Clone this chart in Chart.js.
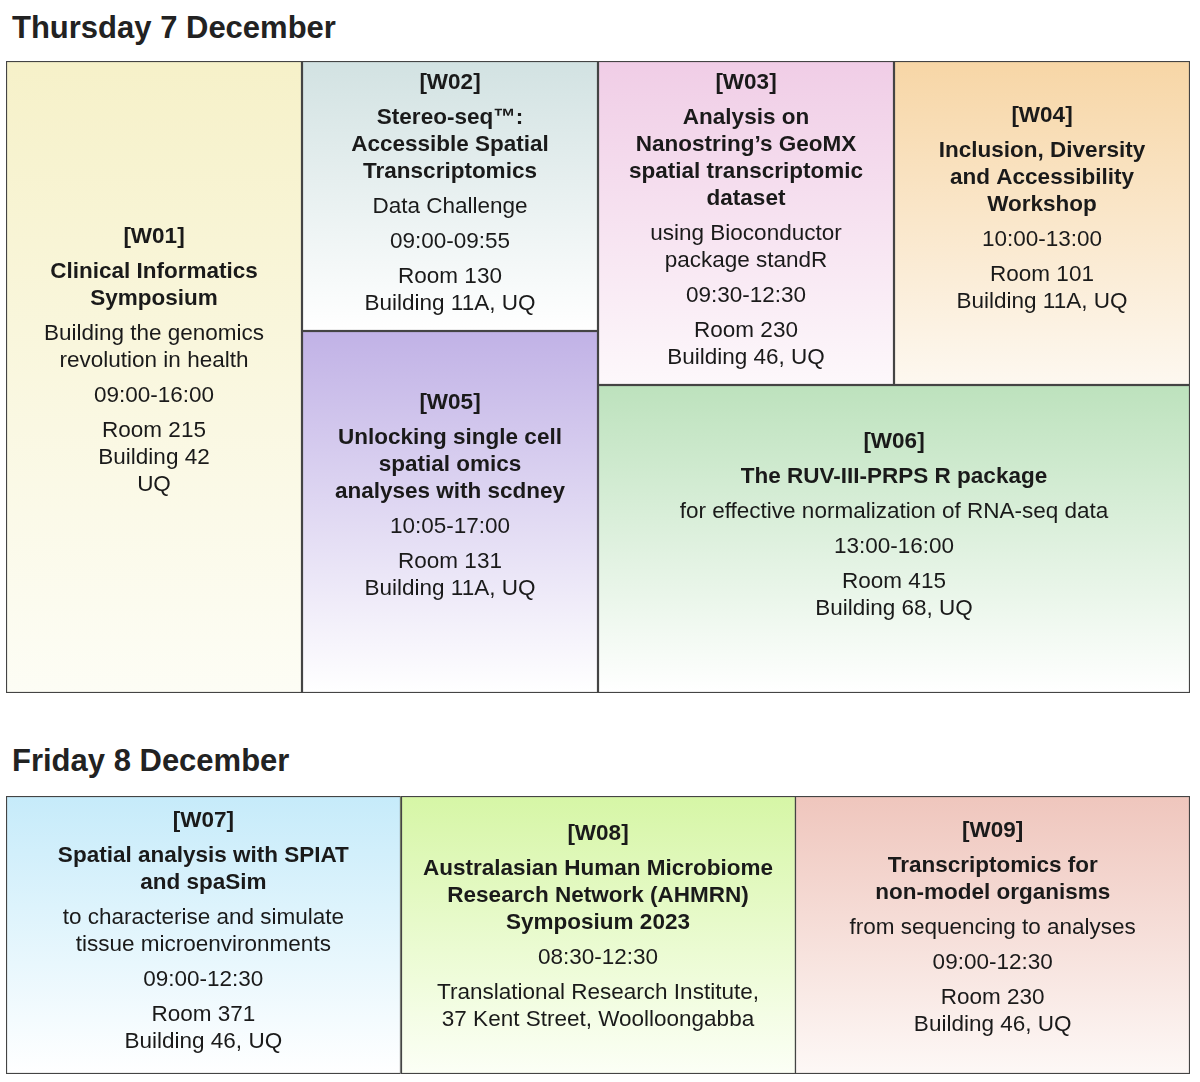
<!DOCTYPE html>
<html><head><meta charset="utf-8">
<script src="https://cdn.jsdelivr.net/npm/chart.js@4"></script>
<style>
body{margin:0;background:#fff;width:1200px;height:1082px;position:relative;font-family:"Liberation Sans",Arial,sans-serif;overflow:hidden}
h2{position:absolute;left:12px;margin:0;font-size:31px;font-weight:bold;color:#222}
.box{position:absolute;left:6px;width:1184px}
</style></head><body>
<h2 style="top:10px">Thursday 7 December</h2>
<h2 style="top:743px">Friday 8 December</h2>
<div class="box" style="top:61px;height:632px"><canvas id="c1"></canvas></div>
<div class="box" style="top:796px;height:278px"><canvas id="c2"></canvas></div>
<script>
// Thursday cells: column span [x0,x1] (columns 0..4), time span [y0,y1] (0..100)
const thuCodes = ["[W01]","[W02]","[W03]","[W04]","[W05]","[W06]"];
const thuX = [[0,1],[1,2],[2,3],[3,4],[1,2],[2,4]];
const thuY = [[0,100],[0,42.8],[0,51.3],[0,51.3],[42.8,100],[51.3,100]];
const thuTitles = [["Clinical Informatics","Symposium"],["Stereo-seq™:","Accessible Spatial","Transcriptomics"],["Analysis on","Nanostring’s GeoMX","spatial transcriptomic","dataset"],["Inclusion, Diversity","and Accessibility","Workshop"],["Unlocking single cell","spatial omics","analyses with scdney"],["The RUV-III-PRPS R package"]];
const thuSubs = [["Building the genomics","revolution in health"],["Data Challenge"],["using Bioconductor","package standR"],[],[],["for effective normalization of RNA-seq data"]];
const thuTimes = ["09:00-16:00","09:00-09:55","09:30-12:30","10:00-13:00","10:05-17:00","13:00-16:00"];
const thuRooms = [["Room 215","Building 42","UQ"],["Room 130","Building 11A, UQ"],["Room 230","Building 46, UQ"],["Room 101","Building 11A, UQ"],["Room 131","Building 11A, UQ"],["Room 415","Building 68, UQ"]];
const thuColors = [["#f6f1c9","#fdfdf5"],["#d2e2e2","#ffffff"],["#f0cde6","#fdf8fb"],["#f7d6a6","#fdf8f0"],["#c1b2e6","#ffffff"],["#bde2bd","#ffffff"]];
// Friday cells
const friCodes = ["[W07]","[W08]","[W09]"];
const friX = [[0,1],[1,2],[2,3]];
const friY = [[0,100],[0,100],[0,100]];
const friTitles = [["Spatial analysis with SPIAT","and spaSim"],["Australasian Human Microbiome","Research Network (AHMRN)","Symposium 2023"],["Transcriptomics for","non-model organisms"]];
const friSubs = [["to characterise and simulate","tissue microenvironments"],[],["from sequencing to analyses"]];
const friTimes = ["09:00-12:30","08:30-12:30","09:00-12:30"];
const friRooms = [["Room 371","Building 46, UQ"],["Translational Research Institute,","37 Kent Street, Woolloongabba"],["Room 230","Building 46, UQ"]];
const friColors = [["#c6ebfa","#ffffff"],["#d6f6a6","#fcfff6"],["#efc6bd","#fdf8f6"]];

function cellPlugin(codes,X,Y,titles,subs,times,rooms,colors){
  return {id:'cells',afterDraw(chart){
    const ctx=chart.ctx, xs=chart.scales.x, ys=chart.scales.y;
    for(let i=0;i<codes.length;i++){
      const x0=xs.getPixelForValue(X[i][0]), x1=xs.getPixelForValue(X[i][1]);
      const y0=ys.getPixelForValue(Y[i][0]), y1=ys.getPixelForValue(Y[i][1]);
      const g=ctx.createLinearGradient(0,y0,0,y1);
      g.addColorStop(0,colors[i][0]); g.addColorStop(1,colors[i][1]);
      ctx.fillStyle=g; ctx.fillRect(x0,y0,x1-x0,y1-y0);
      ctx.strokeStyle='#444'; ctx.lineWidth=1.2;
      ctx.strokeRect(Math.round(x0)+0.5,Math.round(y0)+0.5,Math.round(x1-x0)-1,Math.round(y1-y0)-1);
      const allGroups=[[[codes[i]],true],[titles[i],true],[subs[i],false],[[times[i]],false],[rooms[i],false]].filter(g=>g[0].length);
      const LH=27, GAP=8;
      let n=0; allGroups.forEach(g=>n+=g[0].length);
      const total=n*LH+(allGroups.length-1)*GAP;
      const lift=Math.min(16,Math.max(0,((y1-y0)-total)/8));
      let y=(y0+y1)/2-total/2+LH/2-lift;
      ctx.textAlign='center'; ctx.textBaseline='middle'; ctx.fillStyle='#1a1a1a';
      const cx=(x0+x1)/2;
      allGroups.forEach(([lines,b])=>{
        ctx.font=(b?'bold ':'')+'22.5px "Liberation Sans", Arial, sans-serif';
        lines.forEach(l=>{ctx.fillText(l,cx,y); y+=LH;});
        y+=GAP;
      });
    }
  }};
}
function make(id,xmax,plugin){
  new Chart(document.getElementById(id),{type:'scatter',data:{datasets:[{data:[]}]},
    options:{responsive:true,maintainAspectRatio:false,animation:false,layout:{padding:0},
      plugins:{legend:{display:false},tooltip:{enabled:false}},
      scales:{x:{type:'linear',min:0,max:xmax,display:false},y:{type:'linear',min:0,max:100,reverse:true,display:false}}},
    plugins:[plugin]});
}
make('c1',4,cellPlugin(thuCodes,thuX,thuY,thuTitles,thuSubs,thuTimes,thuRooms,thuColors));
make('c2',3,cellPlugin(friCodes,friX,friY,friTitles,friSubs,friTimes,friRooms,friColors));
</script></body></html>
